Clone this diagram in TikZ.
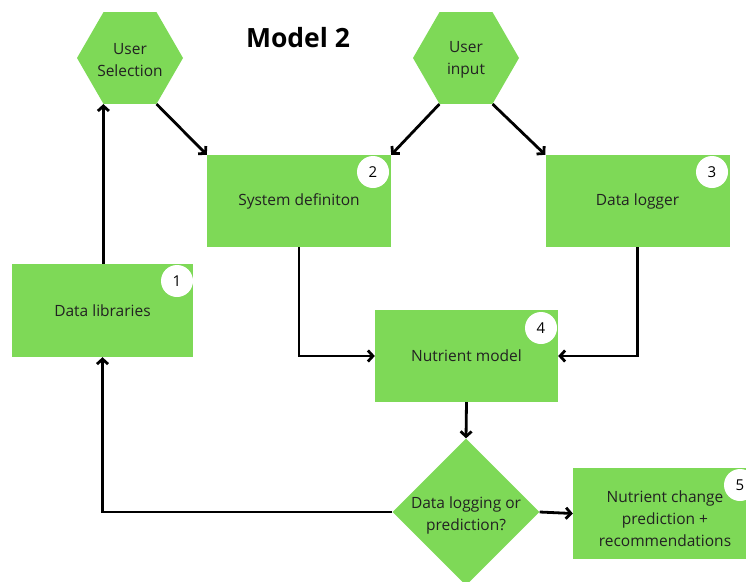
\documentclass[tikz,border=0pt]{standalone}
\usepackage{fontspec}
\setmainfont{Open Sans}
\usetikzlibrary{shapes.geometric,arrows.meta,calc}
\definecolor{boxgreen}{HTML}{7ED957}
\definecolor{txt}{HTML}{222222}
\tikzset{
  boxtext/.style={text=txt,font=\fontsize{15.5}{22}\selectfont,align=center},
  box/.style={fill=boxgreen,minimum width=184pt,minimum height=92pt,inner sep=0pt,boxtext},
  hexa/.style={regular polygon,regular polygon sides=6,fill=boxgreen,minimum size=106pt,inner sep=0pt},
  badge/.style={circle,fill=white,minimum size=32pt,inner sep=0pt,text=black,font=\fontsize{15}{18}\selectfont},
  conn/.style={line width=2.8pt,-{Straight Barb[length=5pt,width=11pt,line width=2.8pt]}},
}
\begin{document}
\begin{tikzpicture}[x=1pt,y=-1pt]
\useasboundingbox (0,0) rectangle (746,581);
\clip (0,0) rectangle (746,581);
\node[hexa] (us) at (130,58) {};
\node[boxtext] (ust) at (130,60) {User\\Selection};
\node[hexa] (ui) at (466,58) {};
\node[boxtext] (uit) at (466,60) {User\\input};
\node[font=\fontsize{26.5}{30}\selectfont\bfseries] (title) at (298,38) {Model 2};
\node[box] (sd) at (299,201) {System definiton};
\node[badge] (b2) at (373,172) {2};
\node[box] (dl) at (637.5,201) {Data logger};
\node[badge] (b3) at (712,172) {3};
\node[box,minimum width=181pt,minimum height=93pt] (lib) at (102.5,310.5) {Data libraries};
\node[badge] (b1) at (177,281) {1};
\node[box,minimum width=183pt] (nm) at (466.5,356) {Nutrient model};
\node[badge] (b4) at (541,328) {4};
\node[diamond,aspect=1,fill=boxgreen,minimum size=147pt,inner sep=0pt] (dia) at (466,512) {};
\node[boxtext] (diat) at (466,515) {Data logging or\\prediction?};
\node[box,minimum height=91pt] (nc) at (665,513.5) {};
\node[boxtext] (nct) at (665,519) {Nutrient change\\prediction +\\recommendations};
\node[badge] (b5) at (740,485) {5};
% connectors
\draw[conn] (lib.north -| us.-120) -- (us.-120);
\draw[conn] (us.-60) -- (sd.north west);
\draw[conn] (ui.-120) -- (sd.north east);
\draw[conn] (ui.-60) -- (dl.north west);
\draw[conn] (sd.south) |- (nm.west);
\draw[conn] (dl.south) |- (nm.east);
\draw[conn] (nm.south) -- (dia.north);
\draw[conn] (dia.west) -| (lib.south);
\draw[conn] (dia.east) -- (nc.west);
\end{tikzpicture}
\end{document}
